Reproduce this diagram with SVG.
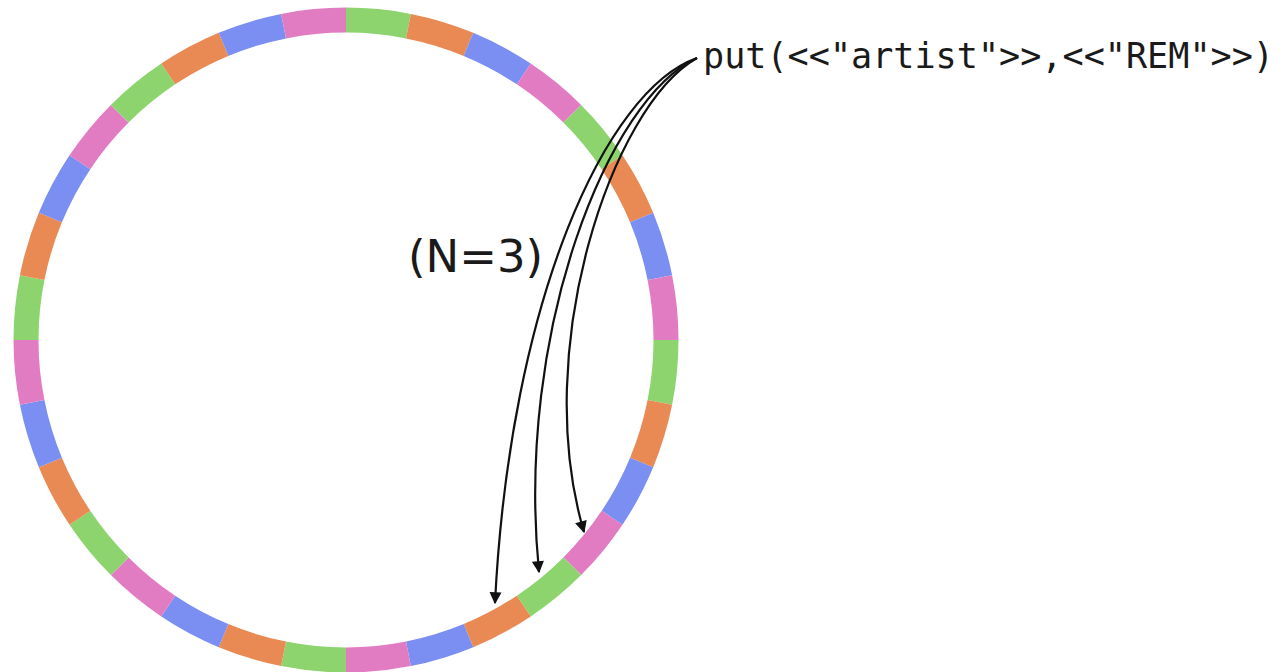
<svg xmlns="http://www.w3.org/2000/svg" width="1280" height="672" viewBox="0 0 1280 672">
<style>
.seg{fill:none;stroke-width:25;stroke-linecap:butt}
.g{stroke:#8dd46f}.o{stroke:#e98a55}.b{stroke:#7b8ef2}.p{stroke:#e27cc2}
.conn{fill:none;stroke:#111;stroke-width:2.2}
.code{font-family:"DejaVu Sans Mono","Liberation Mono",monospace;font-size:35px;fill:#1a1a1a}
.lbl{font-family:"DejaVu Sans","Liberation Sans",sans-serif;font-size:45px;fill:#1a1a1a}
</style>
<defs>
<marker id="ah" viewBox="0 0 10 10" refX="9" refY="5" markerWidth="14" markerHeight="12" markerUnits="userSpaceOnUse" orient="auto">
<path d="M0,0 L10,5 L0,10 z" fill="#111"/>
</marker>
</defs>
<rect width="1280" height="672" fill="#ffffff"/>
<g id="ring">
<path class="seg g" d="M346,20 A320,320 0 0 1 408.43,26.15"/>
<path class="seg o" d="M408.43,26.15 A320,320 0 0 1 468.46,44.36"/>
<path class="seg b" d="M468.46,44.36 A320,320 0 0 1 523.78,73.93"/>
<path class="seg p" d="M523.78,73.93 A320,320 0 0 1 572.27,113.73"/>
<path class="seg g" d="M572.27,113.73 A320,320 0 0 1 612.07,162.22"/>
<path class="seg o" d="M612.07,162.22 A320,320 0 0 1 641.64,217.54"/>
<path class="seg b" d="M641.64,217.54 A320,320 0 0 1 659.85,277.57"/>
<path class="seg p" d="M659.85,277.57 A320,320 0 0 1 666,340"/>
<path class="seg g" d="M666,340 A320,320 0 0 1 659.85,402.43"/>
<path class="seg o" d="M659.85,402.43 A320,320 0 0 1 641.64,462.46"/>
<path class="seg b" d="M641.64,462.46 A320,320 0 0 1 612.07,517.78"/>
<path class="seg p" d="M612.07,517.78 A320,320 0 0 1 572.27,566.27"/>
<path class="seg g" d="M572.27,566.27 A320,320 0 0 1 523.78,606.07"/>
<path class="seg o" d="M523.78,606.07 A320,320 0 0 1 468.46,635.64"/>
<path class="seg b" d="M468.46,635.64 A320,320 0 0 1 408.43,653.85"/>
<path class="seg p" d="M408.43,653.85 A320,320 0 0 1 346,660"/>
<path class="seg g" d="M346,660 A320,320 0 0 1 283.57,653.85"/>
<path class="seg o" d="M283.57,653.85 A320,320 0 0 1 223.54,635.64"/>
<path class="seg b" d="M223.54,635.64 A320,320 0 0 1 168.22,606.07"/>
<path class="seg p" d="M168.22,606.07 A320,320 0 0 1 119.73,566.27"/>
<path class="seg g" d="M119.73,566.27 A320,320 0 0 1 79.93,517.78"/>
<path class="seg o" d="M79.93,517.78 A320,320 0 0 1 50.36,462.46"/>
<path class="seg b" d="M50.36,462.46 A320,320 0 0 1 32.15,402.43"/>
<path class="seg p" d="M32.15,402.43 A320,320 0 0 1 26,340"/>
<path class="seg g" d="M26,340 A320,320 0 0 1 32.15,277.57"/>
<path class="seg o" d="M32.15,277.57 A320,320 0 0 1 50.36,217.54"/>
<path class="seg b" d="M50.36,217.54 A320,320 0 0 1 79.93,162.22"/>
<path class="seg p" d="M79.93,162.22 A320,320 0 0 1 119.73,113.73"/>
<path class="seg g" d="M119.73,113.73 A320,320 0 0 1 168.22,73.93"/>
<path class="seg o" d="M168.22,73.93 A320,320 0 0 1 223.54,44.36"/>
<path class="seg b" d="M223.54,44.36 A320,320 0 0 1 283.57,26.15"/>
<path class="seg p" d="M283.57,26.15 A320,320 0 0 1 346,20"/>
</g>
<g id="put-label">
<text class="code" x="703" y="68" textLength="571" lengthAdjust="spacingAndGlyphs">put(&lt;&lt;"artist"&gt;&gt;,&lt;&lt;"REM"&gt;&gt;)</text>
</g>
<g id="n-label">
<text class="lbl" x="408" y="272">(N=3)</text>
</g>
<g id="connectors">
<path class="conn" marker-end="url(#ah)" d="M697,58 C606,90 510,300 495,603"/>
<path class="conn" marker-end="url(#ah)" d="M697,58 C609,98 515,330 539,572"/>
<path class="conn" marker-end="url(#ah)" d="M697,58 C612,106 530,350 584,532"/>
</g>
</svg>
